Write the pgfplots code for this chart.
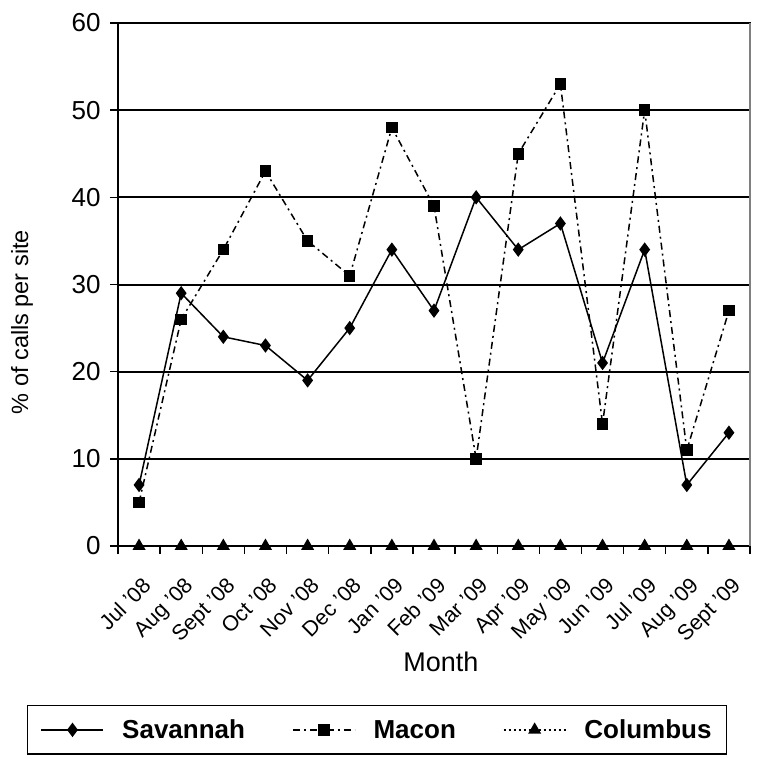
\documentclass[border=0pt]{standalone}
\usepackage{fontspec}
\setmainfont{Liberation Sans}
\usepackage{pgfplots}
\pgfplotsset{compat=1.18}
\begin{document}
\begin{tikzpicture}
\begin{axis}[
  scale only axis, width=632pt, height=523pt,
  xmin=-0.5, xmax=14.5, ymin=0, ymax=60,
  clip=false,
  axis line style={line width=1.8pt, black},
  ytick={0,10,...,60},
  ymajorgrids,
  major grid style={line width=2pt, black},
  xtick={0,...,14},
  xticklabels={Jul '08,Aug '08,Sept '08,Oct '08,Nov '08,Dec '08,Jan '09,Feb '09,Mar '09,Apr '09,May '09,Jun '09,Jul '09,Aug '09,Sept '09},
  major x tick style={draw=none},
  minor xtick={-0.5,0.5,...,14.5},
  minor x tick style={line width=1.4pt, black},
  minor tick length=8pt,
  major tick length=8pt,
  tick align=outside,
  xtick pos=bottom, ytick pos=left,
  ytick style={line width=1.6pt, black},
  /pgf/number format/assume math mode=true,
  yticklabel style={font=\fontsize{26}{30}\selectfont, xshift=-6pt},
  xticklabel style={font=\fontsize{21.5}{25}\selectfont, rotate=45, anchor=north east, inner sep=0pt, xshift=-14pt, yshift=-17pt},
  ylabel={\% of calls per site},
  ylabel style={font=\fontsize{23.5}{28}\selectfont, at={(axis description cs:-0.152,0.428)}, anchor=center},
  xlabel={Month},
  xlabel style={font=\fontsize{27}{32}\selectfont, at={(axis description cs:0.511,-0.222)}, anchor=center},
  legend image code/.code={\draw[mark repeat=2,mark phase=2,#1] plot coordinates {(0pt,0pt) (31pt,0pt) (62pt,0pt)};},
  legend style={at={(0.41,-0.304)}, anchor=north, legend columns=3, draw=black, line width=1.4pt,
    font=\fontsize{26}{30}\selectfont\bfseries, inner xsep=13pt, inner ysep=12pt,
    /tikz/every odd column/.style={column sep=16pt},
    /tikz/every even column/.style={column sep=45pt}},
]
\addplot[line width=1.5pt, black, mark=diamond*, mark size=6pt] coordinates {
(0,7) (1,29) (2,24) (3,23) (4,19) (5,25) (6,34) (7,27) (8,40) (9,34) (10,37) (11,21) (12,34) (13,7) (14,13)};
\addlegendentry{Savannah}
\addplot[line width=1.5pt, black, dash pattern=on 7pt off 4pt on 2pt off 4pt, mark=square*, mark size=5pt, mark options={solid}] coordinates {
(0,5) (1,26) (2,34) (3,43) (4,35) (5,31) (6,48) (7,39) (8,10) (9,45) (10,53) (11,14) (12,50) (13,11) (14,27)};
\addlegendentry{Macon}
\addplot[line width=1.5pt, black, dash pattern=on 2pt off 3pt, mark=triangle*, mark size=6pt, mark options={solid}] coordinates {
(0,0) (1,0) (2,0) (3,0) (4,0) (5,0) (6,0) (7,0) (8,0) (9,0) (10,0) (11,0) (12,0) (13,0) (14,0)};
\addlegendentry{Columbus}
\draw[gray, line width=2pt] (rel axis cs:1,0) -- (rel axis cs:1,1);
\end{axis}
\pgfresetboundingbox
\path ([xshift=-118pt,yshift=23pt]current axis.north west) rectangle ([xshift=14pt,yshift=-222pt]current axis.south east);
\end{tikzpicture}
\end{document}
